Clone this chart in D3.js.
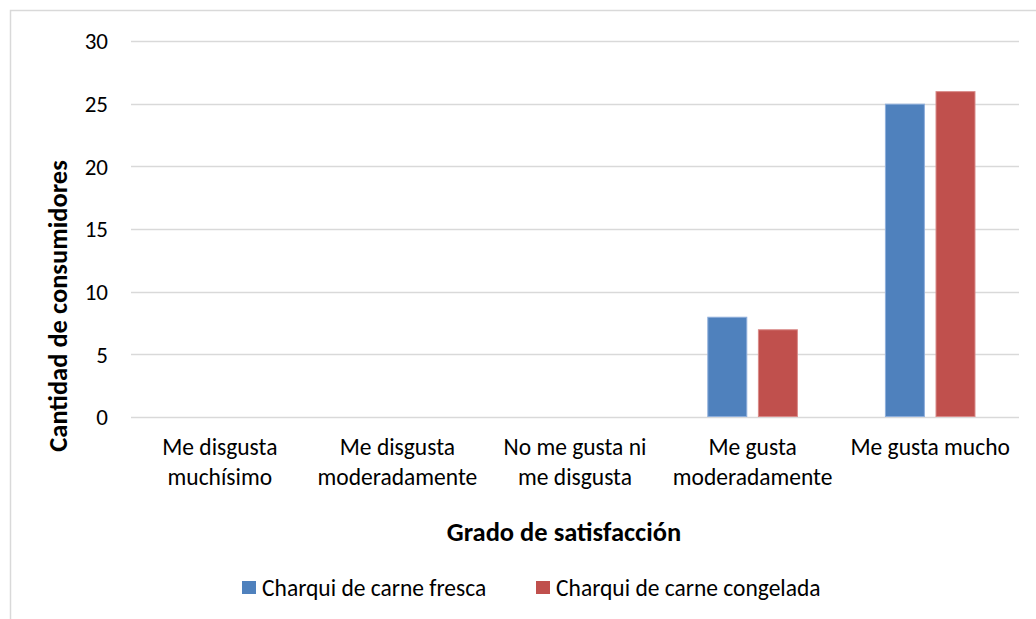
<!DOCTYPE html>
<html lang="es">
<head>
    <meta charset="UTF-8"/>
    <title>Grado de satisfacción</title>
    <script src="https://d3js.org/d3.v7.min.js"></script>
    <style>
        html, body {
            margin: 0;
            padding: 0;
            background: #fff;
        }
        svg text {
            font-family: Carlito, Calibri, Lato, "Open Sans", sans-serif;
            fill: #000;
        }
    </style>
</head>
<body>
    <div class="chart-container"></div>
    <script>
        var w = 1036;
        var h = 619;

        // data
        var categories = [
            ["Me disgusta", "muchísimo"],
            ["Me disgusta", "moderadamente"],
            ["No me gusta ni", "me disgusta"],
            ["Me gusta", "moderadamente"],
            ["Me gusta mucho"]
        ];
        var seriesNames = ["Charqui de carne fresca", "Charqui de carne congelada"];
        var fresca = [0, 0, 0, 8, 25];
        var congelada = [0, 0, 0, 7, 26];
        var yTicks = [0, 5, 10, 15, 20, 25, 30];
        var colors = ["#4F81BD", "#C0504D"];
        var strokes = ["#8eaedb", "#d98a88"];

        // plot area (pixels)
        var pLeft = 131, pRight = 1019, pTop = 41, pBottom = 417;

        var svg = d3.select(".chart-container")
                    .append("svg")
                    .attr("width", w)
                    .attr("height", h);

        // chart border (only top and left visible in the crop)
        svg.append("rect")
            .attr("x", 10.5)
            .attr("y", 10.5)
            .attr("width", 1100)
            .attr("height", 700)
            .attr("fill", "none")
            .attr("stroke", "#d9d9d9")
            .attr("stroke-width", 1.5);

        var x0 = d3.scaleBand()
            .domain(d3.range(categories.length))
            .range([pLeft, pRight])
            .padding(0);

        var step = x0.bandwidth();
        var x1 = d3.scaleBand()
            .domain([0, 1])
            .range([step * 0.245, step * 0.755])
            .paddingInner(0.21);

        var y = d3.scaleLinear()
            .domain([0, 30])
            .range([pBottom, pTop]);

        // gridlines
        svg.selectAll("line.grid")
            .data(yTicks)
            .enter()
            .append("line")
            .attr("class", "grid")
            .attr("x1", pLeft)
            .attr("x2", pRight)
            .attr("y1", function(d) { return Math.round(y(d)) + 0.5; })
            .attr("y2", function(d) { return Math.round(y(d)) + 0.5; })
            .attr("stroke", "#d9d9d9")
            .attr("stroke-width", 1.3);

        // y tick labels
        svg.selectAll("text.ytick")
            .data(yTicks)
            .enter()
            .append("text")
            .attr("class", "ytick")
            .attr("x", 108)
            .attr("y", function(d) { return y(d); })
            .attr("dy", "0.36em")
            .attr("text-anchor", "end")
            .style("font-size", "23px")
            .text(function(d) { return d; });

        // bars
        var data = [fresca, congelada];
        var groups = svg.selectAll("g.cat")
            .data(d3.range(categories.length))
            .enter()
            .append("g")
            .attr("class", "cat")
            .attr("transform", function(i) { return "translate(" + x0(i) + ",0)"; });

        groups.selectAll("rect")
            .data(function(i) {
                return data.map(function(s, k) { return { k: k, v: s[i] }; })
                           .filter(function(d) { return d.v > 0; });
            })
            .enter()
            .append("rect")
            .attr("x", function(d) { return x1(d.k) + 0.5; })
            .attr("y", function(d) { return y(d.v) + 0.5; })
            .attr("width", x1.bandwidth() - 1)
            .attr("height", function(d) { return y(0) - y(d.v) - 1; })
            .attr("fill", function(d) { return colors[d.k]; })
            .attr("stroke", function(d) { return strokes[d.k]; })
            .attr("stroke-width", 1);

        // category labels
        var xl = svg.selectAll("text.xlab")
            .data(categories)
            .enter()
            .append("text")
            .attr("class", "xlab")
            .attr("text-anchor", "middle")
            .style("font-size", "23.5px");

        xl.selectAll("tspan")
            .data(function(d, i) { return d.map(function(t) { return { t: t, i: i }; }); })
            .enter()
            .append("tspan")
            .attr("x", function(d) { return x0(d.i) + step / 2; })
            .attr("y", function(d, j) { return 455 + j * 30; })
            .text(function(d) { return d.t; });

        // axis titles
        svg.append("text")
            .attr("x", 564)
            .attr("y", 541)
            .attr("text-anchor", "middle")
            .style("font-size", "26.5px")
            .style("font-weight", "bold")
            .text("Grado de satisfacción");

        svg.append("text")
            .attr("transform", "translate(67,306) rotate(-90)")
            .attr("text-anchor", "middle")
            .style("font-size", "26.5px")
            .style("font-weight", "bold")
            .text("Cantidad de consumidores");

        // legend
        var legendX = [242, 536];
        var leg = svg.selectAll("g.legend")
            .data(seriesNames)
            .enter()
            .append("g")
            .attr("class", "legend")
            .attr("transform", function(d, i) { return "translate(" + legendX[i] + ",581)"; });

        leg.append("rect")
            .attr("width", 14)
            .attr("height", 13)
            .attr("fill", function(d, i) { return colors[i]; });

        leg.append("text")
            .attr("x", 20)
            .attr("y", 15)
            .style("font-size", "23.5px")
            .text(function(d) { return d; });
    </script>
</body>
</html>
